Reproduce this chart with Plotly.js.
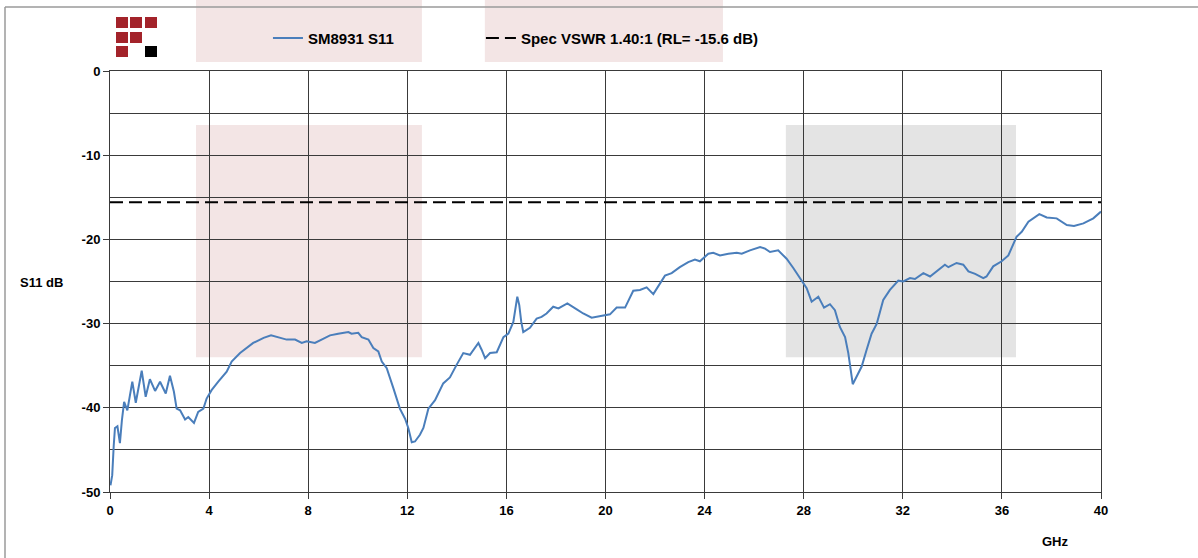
<!DOCTYPE html>
<html>
<head>
<meta charset="utf-8">
<script src="https://cdn.plot.ly/plotly-3.0.1.min.js"></script>
<style>
  html, body { margin: 0; padding: 0; background: #ffffff; }
  #chart { width: 1198px; height: 558px; }
</style>
</head>
<body>
<div id="chart"></div>
<script>
// ---- Data ----
const freqGHz = [0.02, 0.09, 0.15, 0.2, 0.3, 0.4, 0.48, 0.57, 0.7, 0.9, 1.04, 1.28, 1.44, 1.61, 1.82, 2.02, 2.25, 2.42, 2.58, 2.69, 2.83, 3.03, 3.16, 3.39, 3.56, 3.77, 3.9, 4.1, 4.37, 4.71, 4.91, 5.25, 5.78, 6.2, 6.5, 6.86, 7.13, 7.47, 7.74, 7.94, 8.27, 8.54, 8.88, 9.21, 9.62, 9.75, 10.02, 10.16, 10.43, 10.63, 10.83, 10.97, 11.17, 11.44, 11.7, 11.91, 12.04, 12.18, 12.31, 12.51, 12.65, 12.85, 13.12, 13.45, 13.72, 13.99, 14.26, 14.53, 14.87, 15.0, 15.14, 15.34, 15.61, 15.88, 16.08, 16.28, 16.37, 16.44, 16.52, 16.6, 16.68, 16.95, 17.22, 17.42, 17.62, 17.89, 18.1, 18.46, 18.84, 19.1, 19.44, 19.91, 20.18, 20.45, 20.79, 21.12, 21.39, 21.66, 21.93, 22.4, 22.67, 23.0, 23.34, 23.61, 23.81, 24.15, 24.35, 24.62, 24.96, 25.3, 25.5, 25.83, 26.24, 26.44, 26.64, 26.97, 27.31, 27.58, 27.85, 28.12, 28.32, 28.59, 28.82, 29.06, 29.26, 29.46, 29.67, 29.8, 29.98, 30.14, 30.34, 30.54, 30.74, 30.95, 31.21, 31.48, 31.82, 32.02, 32.29, 32.49, 32.83, 33.1, 33.43, 33.7, 33.84, 34.17, 34.44, 34.65, 34.92, 35.25, 35.38, 35.65, 35.99, 36.26, 36.59, 36.8, 37.07, 37.51, 37.81, 38.21, 38.62, 38.91, 39.29, 39.69, 40.0];
const s11dB = [-49.2, -48.0, -44.5, -42.4, -42.2, -44.2, -41.5, -39.3, -40.3, -36.9, -39.4, -35.6, -38.7, -36.6, -38.0, -36.9, -38.3, -36.2, -38.1, -40.1, -40.3, -41.4, -41.1, -41.8, -40.5, -40.1, -38.9, -37.9, -36.9, -35.7, -34.5, -33.5, -32.3, -31.7, -31.4, -31.7, -31.9, -31.9, -32.3, -32.1, -32.3, -31.9, -31.4, -31.2, -31.0, -31.2, -31.1, -31.6, -31.9, -32.9, -33.3, -34.5, -35.3, -37.7, -40.1, -41.3, -42.4, -44.1, -44.0, -43.2, -42.4, -40.1, -39.1, -37.1, -36.4, -34.9, -33.5, -33.7, -32.3, -33.1, -34.1, -33.5, -33.4, -31.6, -31.2, -29.8, -28.0, -26.8, -27.8, -29.8, -31.0, -30.5, -29.4, -29.2, -28.8, -28.0, -28.2, -27.6, -28.3, -28.8, -29.3, -29.1, -28.9, -28.1, -28.1, -26.1, -26.0, -25.7, -26.5, -24.3, -24.0, -23.3, -22.7, -22.4, -22.6, -21.7, -21.6, -21.9, -21.7, -21.6, -21.7, -21.3, -20.9, -21.1, -21.5, -21.3, -22.3, -23.4, -24.6, -25.8, -27.4, -26.8, -28.1, -27.7, -28.4, -30.4, -31.6, -33.5, -37.2, -36.3, -35.1, -33.1, -31.2, -30.0, -27.2, -26.0, -24.9, -25.0, -24.6, -24.7, -24.0, -24.4, -23.6, -23.0, -23.3, -22.8, -23.0, -23.8, -24.1, -24.6, -24.4, -23.2, -22.6, -21.9, -19.7, -19.1, -17.9, -17.0, -17.4, -17.5, -18.3, -18.4, -18.1, -17.5, -16.7];
const specFreq = [0, 40];
const specDB = [-15.6, -15.6];
const seriesNames = ["SM8931 S11", "Spec VSWR 1.40:1 (RL= -15.6 dB)"];
const xTicks = [0, 4, 8, 12, 16, 20, 24, 28, 32, 36, 40];
const yTicks = [0, -10, -20, -30, -40, -50];
const xTitle = "GHz";
const yTitle = "S11 dB";

// ---- Shapes ----
const pink = "#f3e5e5";
const grey = "#e4e4e4";
const shapes = [
  {type: "rect", xref: "x", yref: "y", x0: 3.47, x1: 12.59, y0: -6.4, y1: -34.0, fillcolor: pink, line: {width: 0}, layer: "below"},
  {type: "rect", xref: "x", yref: "y", x0: 27.28, x1: 36.57, y0: -6.4, y1: -34.0, fillcolor: grey, line: {width: 0}, layer: "below"},
  {type: "rect", xref: "x", yref: "paper", x0: 3.47, x1: 12.59, y0: 1.0214, y1: 1.1686, fillcolor: pink, line: {width: 0}, layer: "below"},
  {type: "rect", xref: "x", yref: "paper", x0: 15.13, x1: 24.74, y0: 1.0214, y1: 1.1686, fillcolor: pink, line: {width: 0}, layer: "below"},
  {type: "line", xref: "paper", yref: "paper", xsizemode: "pixel", ysizemode: "pixel", xanchor: 0, yanchor: 1,
   x0: -105, x1: 1088, y0: 64, y1: 64, line: {color: "#9a9a9a", width: 1.5}},
  {type: "line", xref: "paper", yref: "paper", xsizemode: "pixel", ysizemode: "pixel", xanchor: 0, yanchor: 1,
   x0: -105, x1: -105, y0: 64, y1: -490, line: {color: "#9a9a9a", width: 1.5}}
];
const logoCols = [6, 20, 35];
const logoRows = [54, 39, 25];
const logoCells = [[1,1,1],[1,1,0],[1,0,2]];
logoCells.forEach((row, r) => row.forEach((c, k) => {
  if (!c) return;
  shapes.push({type: "rect", xref: "paper", yref: "paper", xsizemode: "pixel", ysizemode: "pixel",
    xanchor: 0, yanchor: 1, x0: logoCols[k], x1: logoCols[k] + 12, y0: logoRows[r] - 11, y1: logoRows[r],
    fillcolor: c === 1 ? "#a3232a" : "#000000", line: {width: 0}});
}));

const font = {family: "Liberation Sans, Arial, sans-serif", size: 13, color: "#000"};
const legendFont = {family: font.family, size: 15, color: "#000", weight: "bold"};

const traces = [
  {x: freqGHz, y: s11dB, type: "scatter", mode: "lines", name: seriesNames[0],
   line: {color: "#4a7ebb", width: 2}, legend: "legend"},
  {x: specFreq, y: specDB, type: "scatter", mode: "lines", name: seriesNames[1],
   line: {color: "#000000", width: 2, dash: "13px,6px"}, legend: "legend2"}
];

const layout = {
  width: 1198, height: 558,
  margin: {l: 110, r: 97, t: 71, b: 66},
  paper_bgcolor: "#ffffff", plot_bgcolor: "rgba(0,0,0,0)",
  font: font,
  showlegend: true,
  legend: {orientation: "h", x: 0.1594, xanchor: "left", y: 1.078, yanchor: "middle",
    bgcolor: "rgba(0,0,0,0)", font: legendFont, itemwidth: 30},
  legend2: {orientation: "h", x: 0.3743, xanchor: "left", y: 1.078, yanchor: "middle",
    bgcolor: "rgba(0,0,0,0)", font: legendFont, itemwidth: 30},
  xaxis: {range: [0, 40], tickvals: xTicks, ticktext: xTicks.map(String), showgrid: true,
    gridcolor: "#3a3a3a", gridwidth: 1, zeroline: false, showline: true, mirror: true,
    linecolor: "#3a3a3a", linewidth: 1, ticks: "outside", ticklen: 6, tickcolor: "#3a3a3a",
    tickfont: {family: font.family, size: 13, color: "#000", weight: "bold"}, fixedrange: true},
  yaxis: {range: [-50, 0], tickvals: yTicks, ticktext: yTicks.map(String), showgrid: true,
    gridcolor: "#3a3a3a", gridwidth: 1, zeroline: false, showline: true, mirror: true,
    linecolor: "#3a3a3a", linewidth: 1, ticks: "outside", ticklen: 6, tickcolor: "#3a3a3a",
    minor: {dtick: 5, showgrid: true, gridcolor: "#3a3a3a", gridwidth: 1, ticks: ""},
    tickfont: {family: font.family, size: 13, color: "#000", weight: "bold"}, fixedrange: true},
  shapes: shapes,
  annotations: [
    {text: "<b>" + yTitle + "</b>", xref: "paper", yref: "paper", x: -0.0696, y: 0.4988,
     xanchor: "center", yanchor: "middle", showarrow: false, font: {family: font.family, size: 13, color: "#000"}},
    {text: "<b>" + xTitle + "</b>", xref: "paper", yref: "paper", x: 0.9536, y: -0.1164,
     xanchor: "center", yanchor: "middle", showarrow: false, font: {family: font.family, size: 13, color: "#000"}}
  ]
};

Plotly.newPlot("chart", traces, layout, {displayModeBar: false, staticPlot: true});
</script>
</body>
</html>
